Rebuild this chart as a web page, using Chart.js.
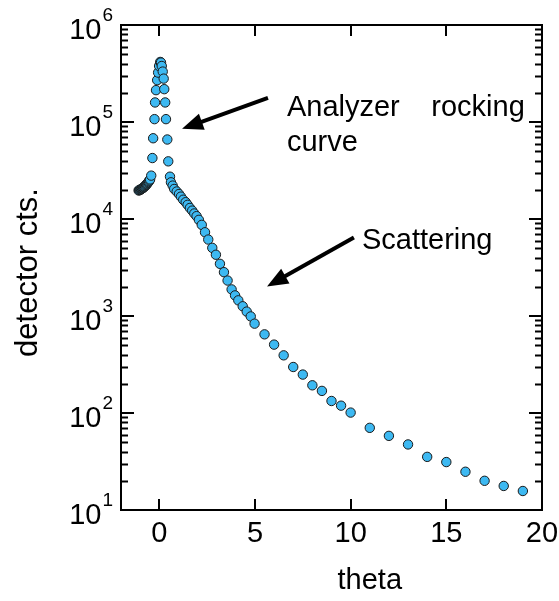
<!DOCTYPE html>
<html>
<head>
<meta charset="utf-8">
<script src="https://cdn.jsdelivr.net/npm/chart.js@4/dist/chart.umd.min.js"></script>
<style>
  html, body { margin: 0; padding: 0; background: #fff; }
  canvas { display: block; }
</style>
</head>
<body>
<canvas id="c" width="559" height="601"></canvas>
<script>
// ---- data ----
const thetaValues = [
  -1.08, -1.05, -1.02, -0.99, -0.96, -0.93, -0.90, -0.87, -0.84, -0.81, -0.78, -0.75,
  -0.72, -0.69, -0.66, -0.63, -0.60, -0.57, -0.54, -0.51, -0.48,
  -0.42, -0.36, -0.32, -0.25, -0.22, -0.17, -0.11, -0.06, -0.01, 0.05,
  0.09, 0.13, 0.18, 0.23, 0.26, 0.31, 0.35, 0.42, 0.47, 0.56,
  0.61, 0.70, 0.78, 0.91, 1.03, 1.13, 1.25, 1.38, 1.48, 1.60, 1.72, 1.83, 1.95,
  2.07, 2.22, 2.39, 2.56, 2.77, 2.96, 3.17, 3.38, 3.57, 3.78, 3.96, 4.13, 4.36, 4.57, 4.78, 4.98,
  5.5, 6.0, 6.5, 7.0, 7.5, 8.0, 8.5, 9.0, 9.5, 10.0,
  11, 12, 13, 14, 15, 16, 17, 18, 19
];
const countValues = [
  19700, 19800, 19900, 20100, 20200, 20400, 20600, 20800, 21000, 21300, 21500, 21800,
  22100, 22400, 22800, 23200, 23600, 24000, 24500, 25000, 25600,
  28000, 42500, 68000, 107000, 159000, 213000, 270000, 323000, 378000, 416000,
  410000, 378000, 331000, 280000, 218000, 159000, 107000, 66000, 39300, 27300,
  23900, 22100, 20400, 19200, 18100, 17000, 15800, 14900, 14000, 13000, 12200, 11400, 10700,
  9800, 8700, 7300, 6140, 5040, 4280, 3450, 2830, 2320, 1880, 1630, 1450, 1260, 1110, 990, 834,
  647, 507, 393, 298, 249, 193, 169, 133, 119, 101,
  70.3, 58.1, 47.4, 35.3, 31.2, 24.8, 20.0, 17.7, 15.7
];
const xTickValues = [0, 5, 10, 15, 20];
const yTickExponents = [1, 2, 3, 4, 5, 6];
const xTitle = 'theta';
const yTitle = 'detector cts.';
// annotations: [text, x, y] anchors in data coordinates; arrows: [tailX, tailY, tipX, tipY]
const labelAnalyzer = ['Analyzer', 6.67, 1.4e5];
const labelRocking = ['rocking', 19.1, 1.4e5];
const labelCurve = ['curve', 6.67, 6.1e4];
const labelScattering = ['Scattering', 10.59, 6000];
const arrowAnalyzer = [5.68, 1.77e5, 1.19, 8.5e4];
const arrowScattering = [10.17, 6440, 5.63, 2020];

const FONT = 'Liberation Sans, Arial, Helvetica, sans-serif';
const FS = 29;
const points = thetaValues.map((t, i) => ({ x: t, y: countValues[i] }));

function drawArrow(ctx, x0, y0, x1, y1) {
  const ang = Math.atan2(y1 - y0, x1 - x0);
  const headLen = 21, headW = 8.5;
  const bx = x1 - headLen * Math.cos(ang), by = y1 - headLen * Math.sin(ang);
  ctx.save();
  ctx.strokeStyle = '#000';
  ctx.fillStyle = '#000';
  ctx.lineWidth = 4;
  ctx.beginPath();
  ctx.moveTo(x0, y0);
  ctx.lineTo(bx + 4 * Math.cos(ang), by + 4 * Math.sin(ang));
  ctx.stroke();
  ctx.beginPath();
  ctx.moveTo(x1, y1);
  ctx.lineTo(bx - headW * Math.sin(ang), by + headW * Math.cos(ang));
  ctx.lineTo(bx + headW * Math.sin(ang), by - headW * Math.cos(ang));
  ctx.closePath();
  ctx.fill();
  ctx.restore();
}

const framePlugin = {
  id: 'frame',
  afterDraw(chart) {
    const { ctx, chartArea: a, scales: { x, y } } = chart;
    ctx.save();
    // frame
    ctx.strokeStyle = '#000';
    ctx.lineWidth = 2;
    ctx.strokeRect(a.left, a.top, a.right - a.left, a.bottom - a.top);
    // x ticks (inward, bottom and top)
    ctx.beginPath();
    xTickValues.forEach(v => {
      const px = Math.round(x.getPixelForValue(v));
      ctx.moveTo(px, a.bottom); ctx.lineTo(px, a.bottom - 11);
      ctx.moveTo(px, a.top); ctx.lineTo(px, a.top + 11);
    });
    ctx.stroke();
    // y ticks (major + minor, left and right)
    ctx.beginPath();
    yTickExponents.forEach(e => {
      const base = Math.pow(10, e);
      const py = Math.round(y.getPixelForValue(base));
      ctx.moveTo(a.left, py); ctx.lineTo(a.left + 13, py);
      ctx.moveTo(a.right, py); ctx.lineTo(a.right - 13, py);
      if (e < 6) {
        for (let m = 2; m <= 9; m++) {
          const pm = Math.round(y.getPixelForValue(m * base)) + 0.5;
          ctx.moveTo(a.left, pm); ctx.lineTo(a.left + 7, pm);
          ctx.moveTo(a.right, pm); ctx.lineTo(a.right - 7, pm);
        }
      }
    });
    ctx.stroke();
    // x tick labels
    ctx.fillStyle = '#000';
    ctx.font = FS + 'px ' + FONT;
    ctx.textAlign = 'center';
    ctx.textBaseline = 'middle';
    xTickValues.forEach(v => {
      ctx.fillText(String(v), x.getPixelForValue(v), a.bottom + 24);
    });
    // y tick labels 10^n
    yTickExponents.forEach(e => {
      const py = y.getPixelForValue(Math.pow(10, e));
      ctx.font = '19px ' + FONT;
      ctx.textAlign = 'right';
      const ew = ctx.measureText(String(e)).width;
      ctx.fillText(String(e), a.left - 8, py - 9);
      ctx.font = FS + 'px ' + FONT;
      ctx.fillText('10', a.left - 9 - ew, py + 6);
    });
    // axis titles
    ctx.font = FS + 'px ' + FONT;
    ctx.textAlign = 'center';
    ctx.fillText(xTitle, x.getPixelForValue(11.0), 581);
    ctx.save();
    ctx.font = '31px ' + FONT;
    ctx.translate(28, (a.top + a.bottom) / 2 + 5);
    ctx.rotate(-Math.PI / 2);
    ctx.fillText(yTitle, 0, 0);
    ctx.restore();
    // annotations
    ctx.font = FS + 'px ' + FONT;
    ctx.textBaseline = 'middle';
    ctx.textAlign = 'left';
    [labelAnalyzer, labelCurve, labelScattering].forEach(l => {
      ctx.fillText(l[0], x.getPixelForValue(l[1]), y.getPixelForValue(l[2]));
    });
    ctx.textAlign = 'right';
    ctx.fillText(labelRocking[0], x.getPixelForValue(labelRocking[1]), y.getPixelForValue(labelRocking[2]));
    [arrowAnalyzer, arrowScattering].forEach(ar => {
      drawArrow(ctx, x.getPixelForValue(ar[0]), y.getPixelForValue(ar[1]),
                x.getPixelForValue(ar[2]), y.getPixelForValue(ar[3]));
    });
    ctx.restore();
  }
};

new Chart(document.getElementById('c'), {
  type: 'scatter',
  data: {
    datasets: [{
      data: points,
      backgroundColor: '#3DB9F2',
      borderColor: '#1a1a1a',
      borderWidth: 1,
      pointRadius: 4.7,
      pointHoverRadius: 4.7
    }]
  },
  options: {
    responsive: false,
    animation: false,
    devicePixelRatio: 1,
    layout: { padding: { left: 0, right: 17, top: 25, bottom: 0 } },
    plugins: { legend: { display: false }, tooltip: { enabled: false } },
    scales: {
      x: {
        type: 'linear', min: -2, max: 20,
        grid: { display: false }, border: { display: false },
        ticks: { display: false },
        afterFit: s => { s.height = 91; }
      },
      y: {
        type: 'logarithmic', min: 10, max: 1e6,
        grid: { display: false }, border: { display: false },
        ticks: { display: false },
        afterFit: s => { s.width = 121; }
      }
    }
  },
  plugins: [framePlugin]
});
</script>
</body>
</html>
